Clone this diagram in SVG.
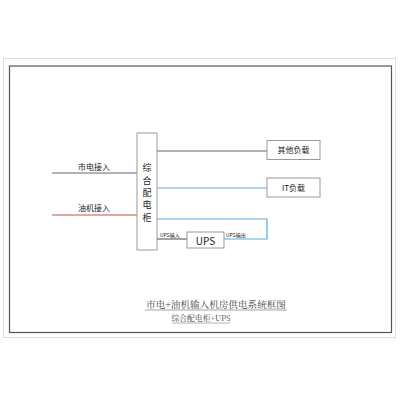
<svg xmlns="http://www.w3.org/2000/svg" width="400" height="400" viewBox="0 0 400 400">
<style>
.box{fill:#fff;stroke:#9a9a9a;stroke-width:1}
.t{font-family:"Noto Sans CJK SC","Liberation Sans",sans-serif;fill:#222}
.ser{font-family:"Noto Serif CJK SC","Liberation Serif","Noto Sans CJK SC",serif;fill:#444}
.gray{stroke:#666;stroke-width:1.2;fill:none}
.red{stroke:#c0504d;stroke-width:1.2;fill:none}
.blue{stroke:#5aaae0;stroke-width:1.2;fill:none}
</style>
<rect x="0" y="0" width="400" height="400" fill="#fff"/>
<g id="frame">
<rect x="3.5" y="58.5" width="392" height="279" fill="none" stroke="#ddd" stroke-width="1"/>
<rect x="9.5" y="66" width="382" height="266.5" fill="none" stroke="#555" stroke-width="1.2"/>
</g>
<g id="connectors">
<line class="gray" x1="52" y1="173" x2="137" y2="173"/>
<line class="red" x1="52" y1="215" x2="137" y2="215"/>
<line class="gray" x1="157" y1="151" x2="267" y2="151"/>
<line class="blue" x1="157" y1="188" x2="267" y2="188"/>
<polyline class="blue" points="157,219 267,219 267,239 224,239"/>
<line class="gray" x1="157" y1="239" x2="187" y2="239"/>
</g>
<g id="label-mains"><text class="t" x="94" y="170" font-size="8" text-anchor="middle">市电接入</text></g>
<g id="label-gen"><text class="t" x="94" y="211" font-size="8" text-anchor="middle">油机接入</text></g>
<g id="cabinet">
<rect class="box" x="137" y="133" width="20" height="117"/>
<text class="t" font-size="9" text-anchor="middle">
<tspan x="147" y="171">综</tspan><tspan x="147" y="184">合</tspan><tspan x="147" y="196">配</tspan><tspan x="147" y="208">电</tspan><tspan x="147" y="221">柜</tspan>
</text>
</g>
<g id="other-load">
<rect class="box" x="267" y="140.5" width="53" height="19"/>
<text class="t" x="293.5" y="153" font-size="8" text-anchor="middle">其他负载</text>
</g>
<g id="it-load">
<rect class="box" x="267" y="178" width="53" height="19"/>
<text class="t" x="293.5" y="190.5" font-size="8" text-anchor="middle">IT负载</text>
</g>
<g id="ups">
<rect class="box" x="187" y="232" width="37" height="16"/>
<text class="t" x="205.5" y="244.5" font-size="10" text-anchor="middle">UPS</text>
<text class="t" x="160" y="237" font-size="5">UPS输入</text>
<text class="t" x="226" y="237" font-size="5">UPS输出</text>
</g>
<g id="title">
<text class="ser" x="216" y="308" font-size="9.6" text-anchor="middle">市电+油机输入机房供电系统框图</text>
<line x1="145" y1="310" x2="287" y2="310" stroke="#666" stroke-width="0.6"/>
<text class="ser" x="201" y="321" font-size="7.8" text-anchor="middle">综合配电柜+UPS</text>
<line x1="172" y1="323" x2="230" y2="323" stroke="#666" stroke-width="0.5"/>
</g>
</svg>
